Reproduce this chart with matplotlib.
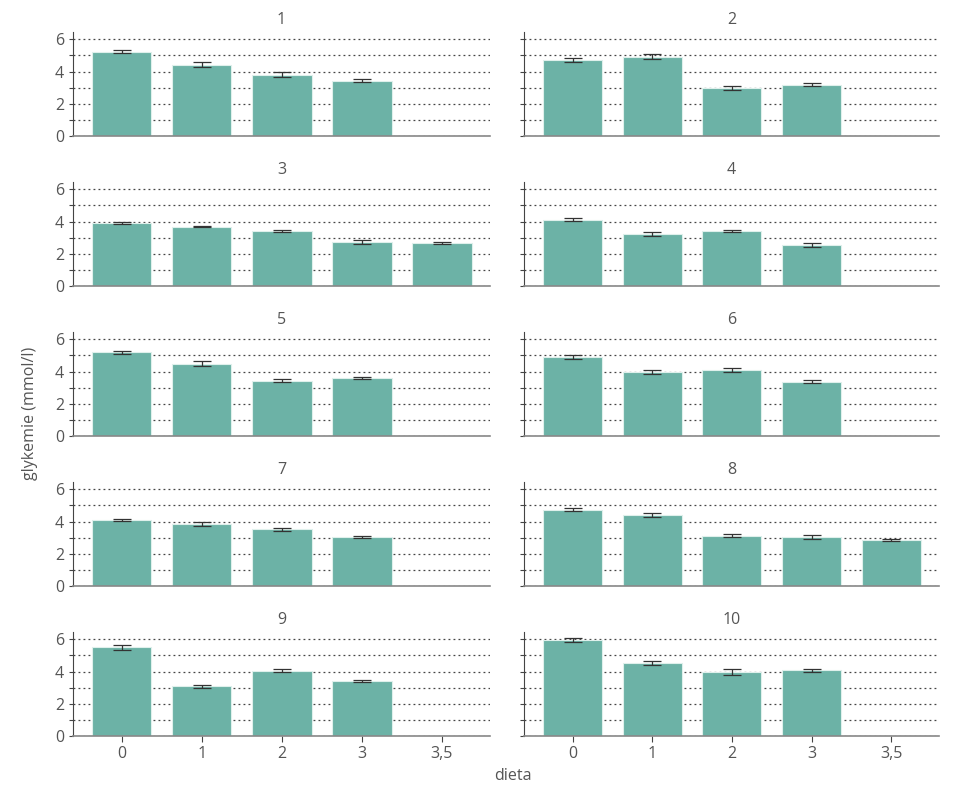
import matplotlib.pyplot as plt
import numpy as np

plt.rcParams["font.family"] = ["Open Sans", "DejaVu Sans"]

categories = ["0", "1", "2", "3", "3,5"]
panel_titles = ["1", "2", "3", "4", "5", "6", "7", "8", "9", "10"]

means = [
    [5.24, 4.43, 3.81, 3.42],
    [4.72, 4.93, 2.98, 3.19],
    [3.91, 3.69, 3.40, 2.73, 2.67],
    [4.10, 3.23, 3.40, 2.53],
    [5.20, 4.49, 3.42, 3.62],
    [4.91, 3.97, 4.10, 3.37],
    [4.12, 3.83, 3.52, 3.06],
    [4.74, 4.39, 3.12, 3.06, 2.86],
    [5.49, 3.08, 4.06, 3.42],
    [5.96, 4.53, 3.98, 4.08],
]
errors = [
    [0.07, 0.13, 0.17, 0.09],
    [0.10, 0.15, 0.15, 0.09],
    [0.07, 0.06, 0.06, 0.10, 0.07],
    [0.09, 0.12, 0.06, 0.11],
    [0.09, 0.14, 0.09, 0.06],
    [0.12, 0.15, 0.14, 0.10],
    [0.06, 0.11, 0.10, 0.06],
    [0.07, 0.14, 0.11, 0.13, 0.08],
    [0.13, 0.11, 0.12, 0.07],
    [0.11, 0.14, 0.17, 0.08],
]

BAR = "#6cb2a6"
TEXT = "#555555"

fig = plt.figure(figsize=(9.71, 8.0), dpi=100)
W, H = 971, 800
col_x = [(73, 490), (524, 939)]
row_base = [136, 286, 436, 586, 736]
ax_h = 104

x = np.arange(len(categories))
for i in range(10):
    r, c = divmod(i, 2)
    x0, x1 = col_x[c]
    ax = fig.add_axes([x0 / W, 1 - row_base[r] / H, (x1 - x0) / W, ax_h / H])
    n = len(means[i])
    ax.bar(x[:n], means[i], width=0.74, color=BAR, edgecolor="#dff0ec",
           linewidth=0.8, zorder=2)
    ax.errorbar(x[:n], means[i], yerr=errors[i], fmt="none", ecolor="#333333",
                elinewidth=0.9, capsize=6.5, capthick=0.9, zorder=3)
    ax.set_xlim(-0.61, 4.6)
    ax.set_ylim(0, 6.45)
    ax.set_yticks(range(0, 7))
    ax.yaxis.grid(True, linestyle=(0, (1.5, 2.5)), color="#444444", linewidth=0.9, zorder=0)
    ax.set_axisbelow(True)
    for s in ("top", "right"):
        ax.spines[s].set_visible(False)
    ax.spines["left"].set_color("#444444")
    ax.spines["bottom"].set_color("#888888")
    ax.spines["bottom"].set_linewidth(1.2)
    ax.tick_params(axis="y", length=3, color="#444444", labelcolor=TEXT, labelsize=11.5)
    if c == 0:
        ax.set_yticklabels(["0", "", "2", "", "4", "", "6"])
    else:
        ax.set_yticklabels([])
    if r == 4:
        ax.set_xticks(x, categories)
        ax.tick_params(axis="x", length=4, color="#444444", labelcolor=TEXT, labelsize=11.5)
    else:
        ax.set_xticks([])
    ax.set_title(panel_titles[i], color=TEXT, fontsize=11.5, pad=6)

fig.text(30 / W, 1 - 413 / H, "glykemie (mmol/l)", rotation=90, ha="center",
         va="center", color=TEXT, fontsize=11.5)
fig.text(513 / W, 1 - 776 / H, "dieta", ha="center", va="center",
         color=TEXT, fontsize=11.5)

fig.savefig("out.png", dpi=100)
